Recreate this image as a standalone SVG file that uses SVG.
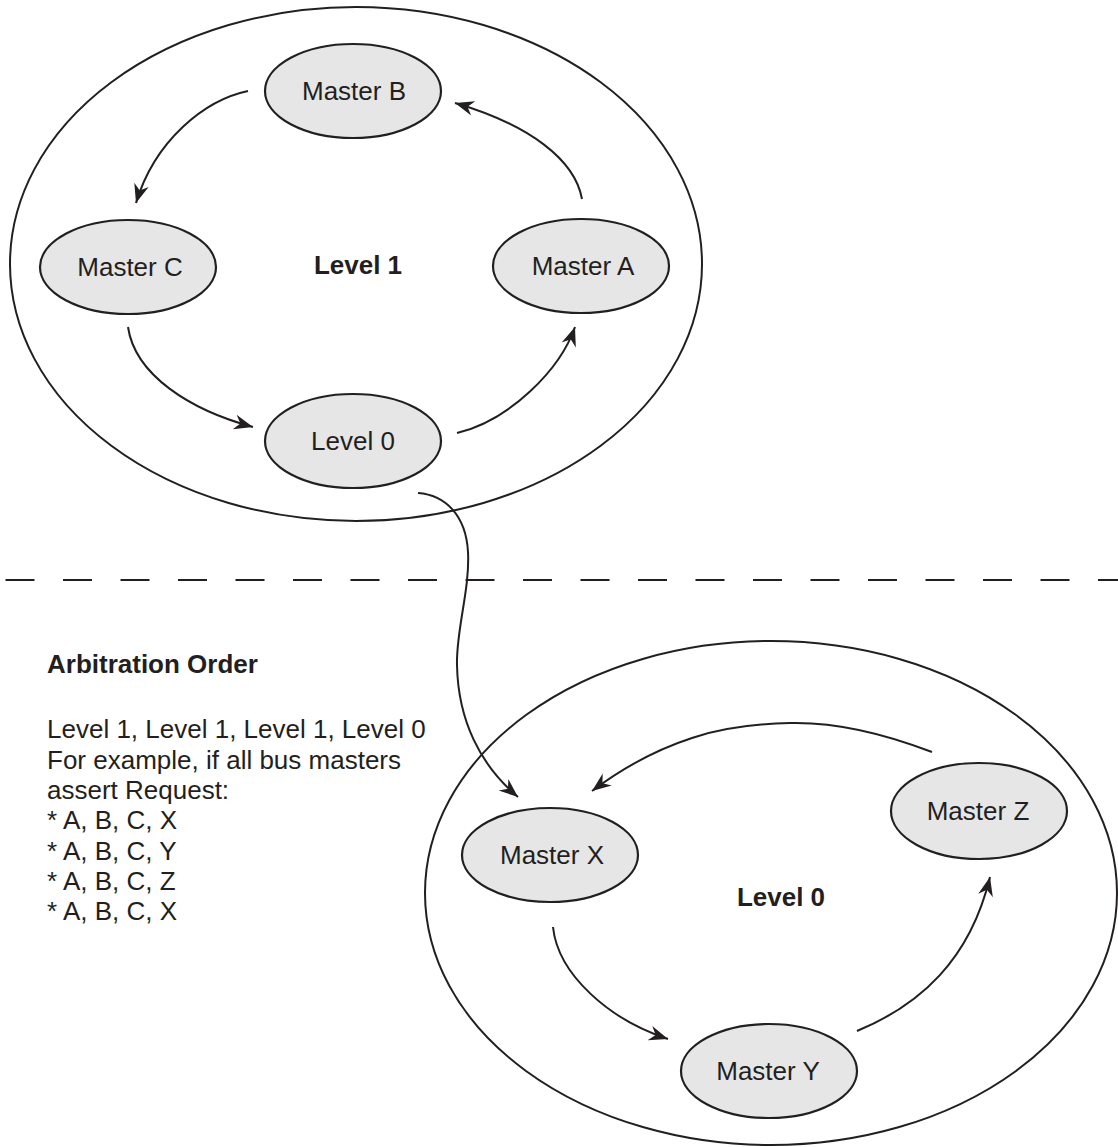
<svg xmlns="http://www.w3.org/2000/svg" width="1118" height="1147" viewBox="0 0 1118 1147">
  <style>
    .region { fill: none; stroke: #231f20; stroke-width: 2; }
    .node ellipse { fill: #e6e6e6; stroke: #231f20; stroke-width: 2.2; }
    .node text, .label { font-family: "Liberation Sans", Arial, sans-serif; font-size: 26px; fill: #231f20; text-anchor: middle; }
    .bold { font-weight: bold; }
    .note { font-family: "Liberation Sans", Arial, sans-serif; font-size: 26px; fill: #231f20; }
    .conn { fill: none; stroke: #231f20; stroke-width: 2; }
    .arrow { marker-end: url(#head); }
    .divider { stroke: #231f20; stroke-width: 2; stroke-dasharray: 29 28.5; }
  </style>
  <defs>
    <marker id="head" markerUnits="userSpaceOnUse" markerWidth="22" markerHeight="18" viewBox="-21 -9 22 18" refX="0" refY="0" orient="auto">
      <path d="M0,0 L-19,-7.5 L-13,0 L-19,7.5 Z" fill="#231f20"/>
    </marker>
  </defs>

  <rect width="1118" height="1147" fill="#ffffff"/>

  <!-- level regions -->
  <g id="region-level1">
    <ellipse class="region" cx="356" cy="264" rx="346" ry="257"/>
    <text class="label bold" x="358" y="274">Level 1</text>
  </g>
  <g id="region-level0">
    <ellipse class="region" cx="771" cy="893" rx="346" ry="252"/>
    <text class="label bold" x="781" y="906">Level 0</text>
  </g>

  <line id="divider" class="divider" x1="5.5" y1="580" x2="1118" y2="580"/>

  <!-- level 1 nodes -->
  <g id="node-master-b" class="node">
    <ellipse cx="353" cy="91" rx="88" ry="47"/>
    <text x="354" y="100">Master B</text>
  </g>
  <g id="node-master-c" class="node">
    <ellipse cx="128" cy="267" rx="88" ry="47"/>
    <text x="130" y="276">Master C</text>
  </g>
  <g id="node-master-a" class="node">
    <ellipse cx="581" cy="266" rx="88" ry="47"/>
    <text x="583" y="275">Master A</text>
  </g>
  <g id="node-level0" class="node">
    <ellipse cx="353" cy="441" rx="88" ry="47"/>
    <text x="353" y="450">Level 0</text>
  </g>

  <!-- level 0 nodes -->
  <g id="node-master-x" class="node">
    <ellipse cx="550" cy="855" rx="88" ry="47"/>
    <text x="552" y="864">Master X</text>
  </g>
  <g id="node-master-z" class="node">
    <ellipse cx="979" cy="811" rx="88" ry="48"/>
    <text x="978" y="820">Master Z</text>
  </g>
  <g id="node-master-y" class="node">
    <ellipse cx="769" cy="1071" rx="88" ry="47"/>
    <text x="768" y="1080">Master Y</text>
  </g>

  <!-- round-robin connectors -->
  <g id="connectors">
    <path class="conn arrow" d="M248,91 C205,100 155,140 136,203"/>
    <path class="conn arrow" d="M128,327 C135,375 190,410 253,427"/>
    <path class="conn arrow" d="M457,433 C510,420 560,370 575,327"/>
    <path class="conn arrow" d="M582,199 C575,160 530,125 455,103"/>
    <path class="conn arrow" d="M418,493 C445,495 466,515 468,552 C470,590 456,630 457,665 C458,720 480,765 518,797"/>
    <path class="conn arrow" d="M553,927 C558,975 610,1020 668,1039"/>
    <path class="conn arrow" d="M857,1031 C920,1005 970,960 990,877"/>
    <path class="conn arrow" d="M932,752 C880,732 830,722 790,723 C750,724 715,730 692,738 C655,750 620,770 592,791"/>
  </g>

  <!-- arbitration order notes -->
  <g id="notes">
    <text class="note bold" x="47" y="673">Arbitration Order</text>
    <text class="note" x="47" y="738">Level 1, Level 1, Level 1, Level 0</text>
    <text class="note" x="47" y="768.5">For example, if all bus masters</text>
    <text class="note" x="47" y="799">assert Request:</text>
    <text class="note" x="47" y="829">* A, B, C, X</text>
    <text class="note" x="47" y="859.5">* A, B, C, Y</text>
    <text class="note" x="47" y="890">* A, B, C, Z</text>
    <text class="note" x="47" y="920">* A, B, C, X</text>
  </g>
</svg>
